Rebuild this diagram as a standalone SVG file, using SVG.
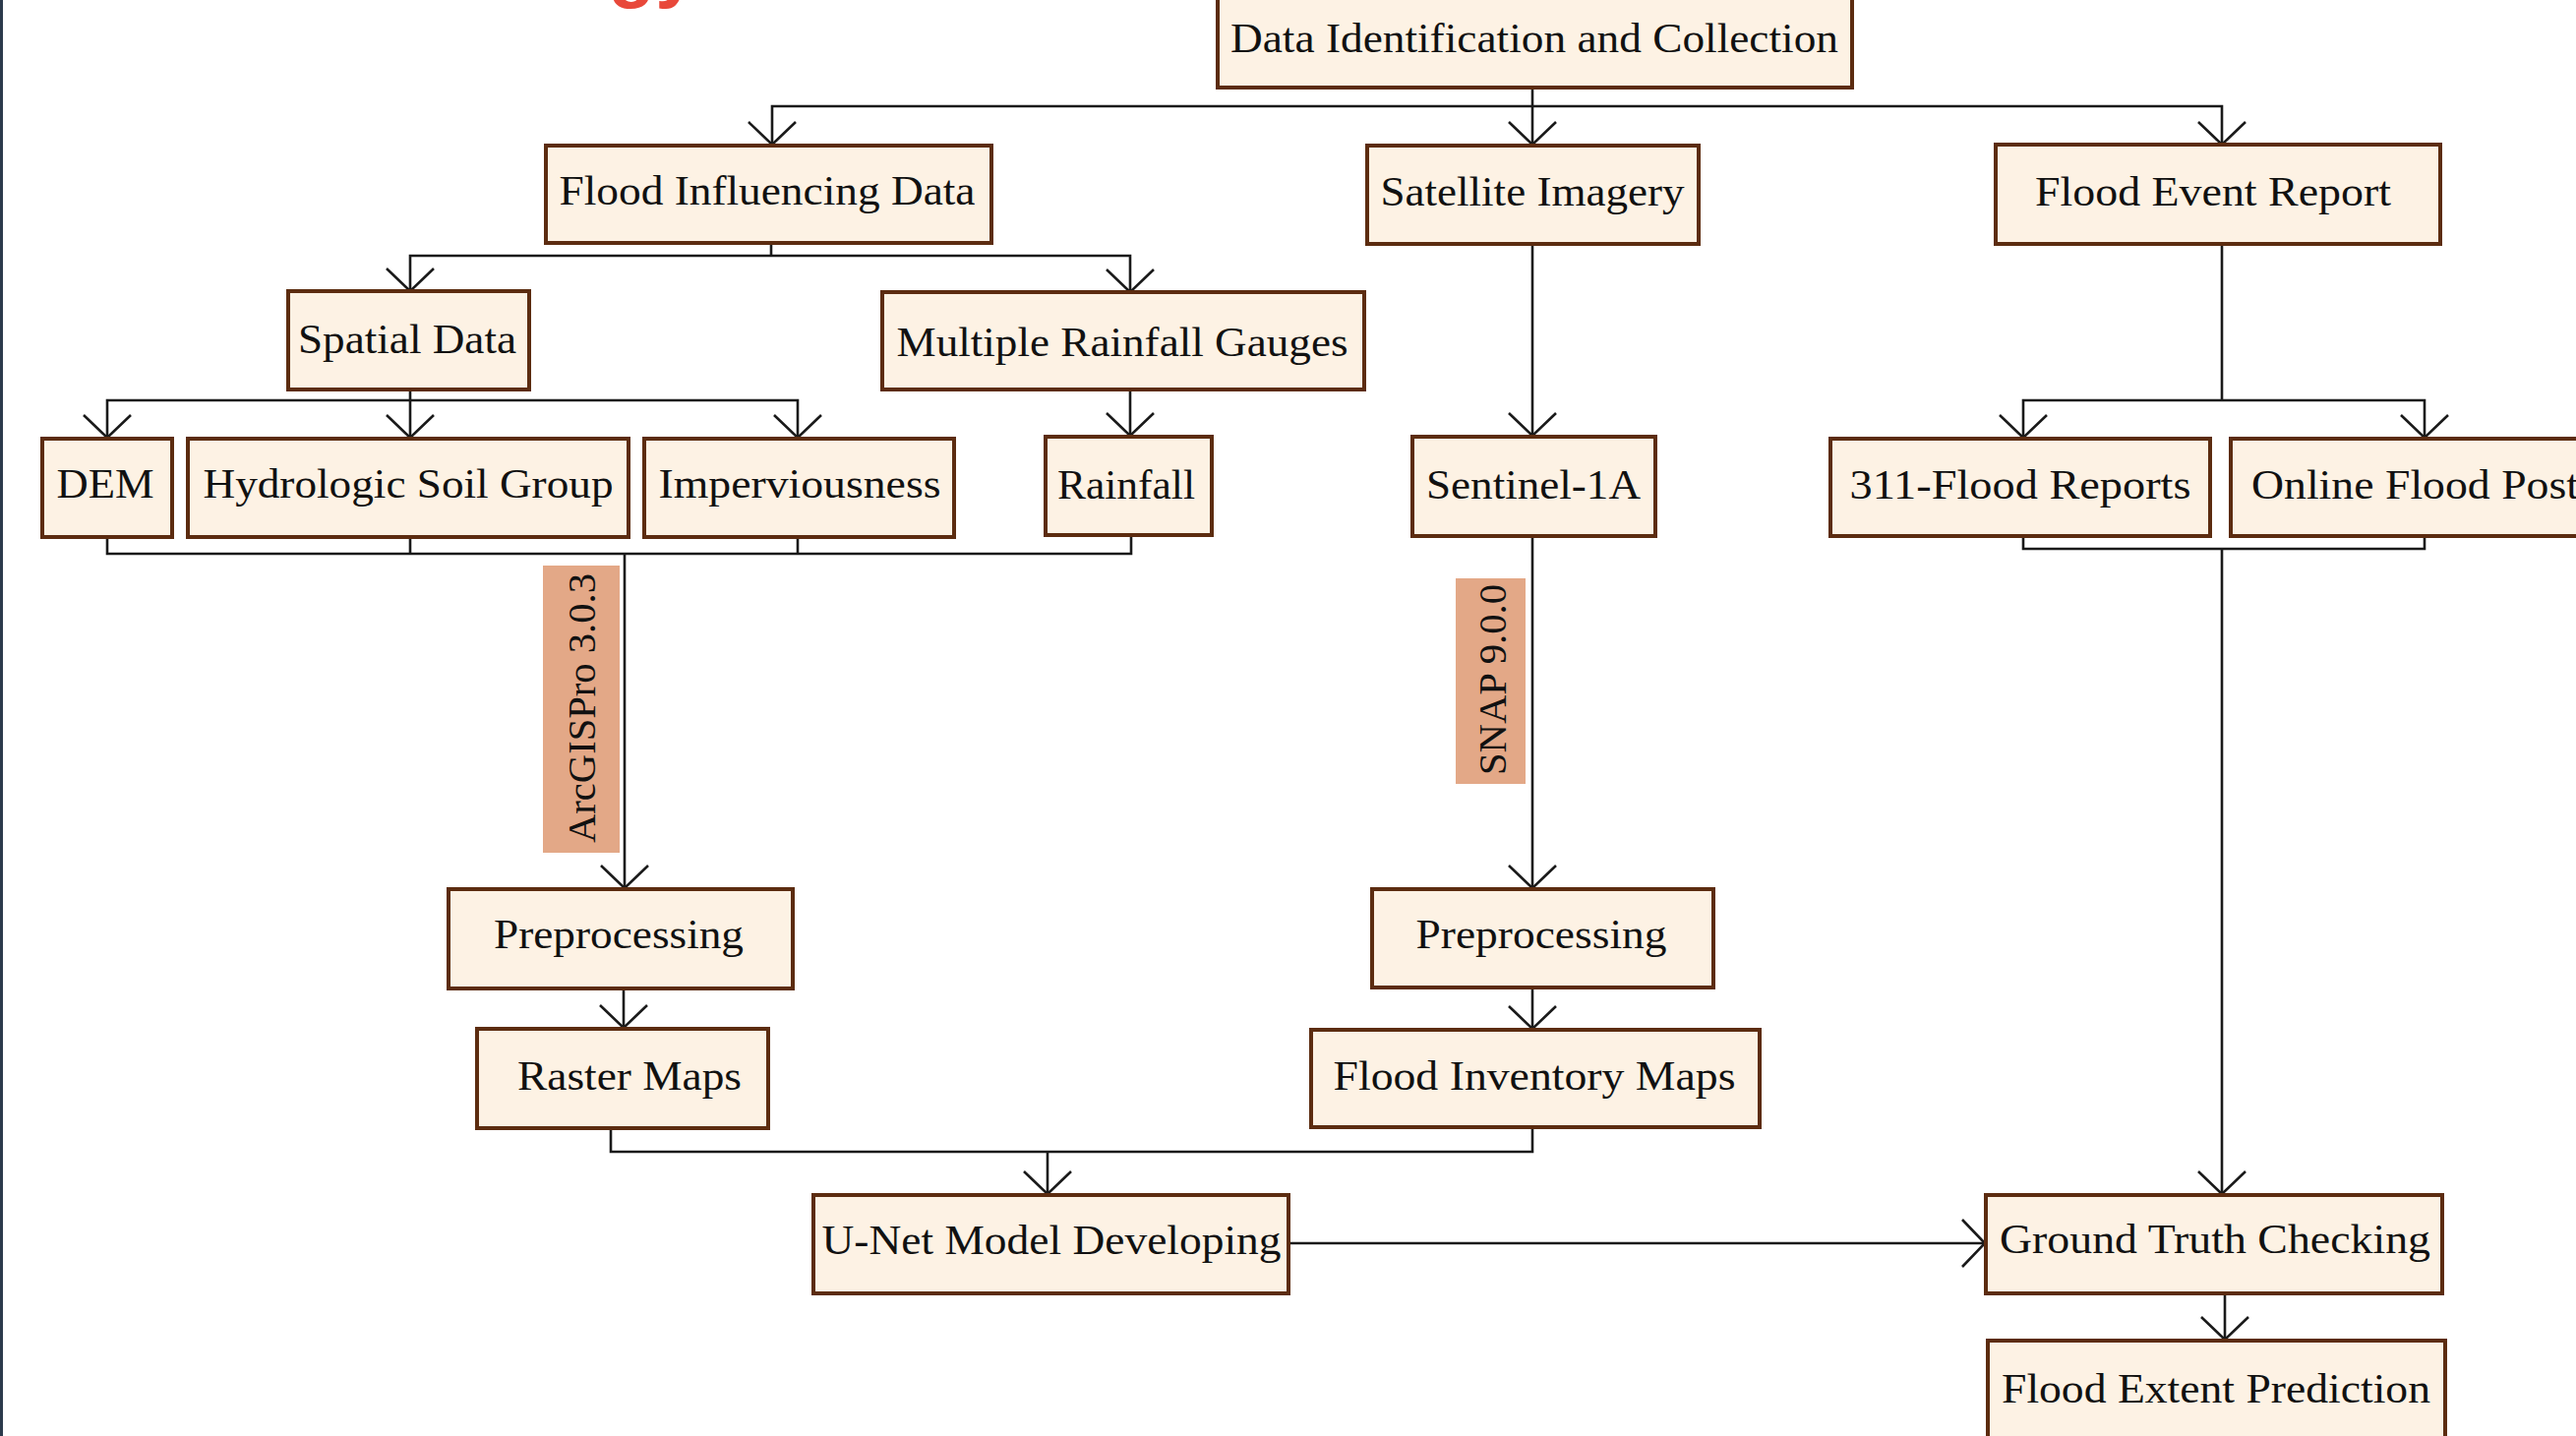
<svg xmlns="http://www.w3.org/2000/svg" width="2619" height="1460" viewBox="0 0 2619 1460">
<defs>
<style>
.box{fill:#fdf2e4;stroke:#5c2c10;stroke-width:4}
.t{font-family:"Liberation Serif","Times New Roman",serif;font-size:43px;fill:#111;text-anchor:middle}
.lbl{fill:#e3a887}
.vt{font-family:"Liberation Serif","Times New Roman",serif;font-size:41px;fill:#111;text-anchor:middle}
.c{fill:none;stroke:#1a1a1a;stroke-width:2.6}
.a{marker-end:url(#arr)}
</style>
<marker id="arr" markerWidth="32" markerHeight="56" refX="28" refY="28" orient="auto" markerUnits="userSpaceOnUse" viewBox="0 0 32 56">
<path d="M5,4 L28,28 L5,52" fill="none" stroke="#1a1a1a" stroke-width="2.6"/>
</marker>
</defs>
<rect x="0" y="0" width="2619" height="1460" fill="#ffffff"/>
<rect x="0" y="0" width="3" height="1460" fill="#2c3a4c"/>
<text x="664" y="-7" font-family="Liberation Sans, Arial, sans-serif" font-weight="bold" font-size="78" fill="#e8483a" text-anchor="middle">gy</text>

<g id="connectors">
<path class="c a" d="M1558,89 V147"/>
<path class="c a" d="M1558,108 H785 V147"/>
<path class="c a" d="M1558,108 H2259 V147"/>
<path class="c" d="M784,247 V260"/>
<path class="c a" d="M784,260 H417 V296"/>
<path class="c a" d="M784,260 H1149 V297"/>
<path class="c" d="M417,396 V407"/>
<path class="c a" d="M417,407 H109 V445"/>
<path class="c a" d="M417,407 V445"/>
<path class="c a" d="M417,407 H811 V445"/>
<path class="c a" d="M1149,396 V443"/>
<path class="c" d="M109,546 V563 H1150 V544"/>
<path class="c" d="M417,546 V563"/>
<path class="c" d="M811,546 V563"/>
<path class="c a" d="M635,563 V903"/>
<path class="c a" d="M1558,248 V443"/>
<path class="c a" d="M1558,545 V903"/>
<path class="c" d="M2259,248 V407"/>
<path class="c a" d="M2259,407 H2057 V445"/>
<path class="c a" d="M2259,407 H2465 V445"/>
<path class="c" d="M2057,545 V558 H2465 V545"/>
<path class="c a" d="M2259,558 V1214"/>
<path class="c a" d="M634,1005 V1045"/>
<path class="c a" d="M1558,1004 V1046"/>
<path class="c" d="M621,1147 V1171 H1558 V1146"/>
<path class="c a" d="M1065,1171 V1214"/>
<path class="c a" d="M1310,1264 H2018"/>
<path class="c a" d="M2262,1315 V1362"/>
</g>

<g id="label-arcgis">
<rect class="lbl" x="552" y="575" width="78" height="292"/>
<text class="vt" transform="translate(605,720) rotate(-90)" x="0" y="0" textLength="274" lengthAdjust="spacingAndGlyphs">ArcGISPro 3.0.3</text>
</g>
<g id="label-snap">
<rect class="lbl" x="1480" y="588" width="71" height="209"/>
<text class="vt" transform="translate(1531,691) rotate(-90)" x="0" y="0" textLength="194" lengthAdjust="spacingAndGlyphs">SNAP 9.0.0</text>
</g>

<g id="node-data-identification">
<rect class="box" x="1238" y="-10" width="645" height="99"/>
<text class="t" x="1560" y="53" textLength="618" lengthAdjust="spacingAndGlyphs">Data Identification and Collection</text>
</g>
<g id="node-flood-influencing">
<rect class="box" x="555" y="148" width="453" height="99"/>
<text class="t" x="780" y="208" textLength="423" lengthAdjust="spacingAndGlyphs">Flood Influencing Data</text>
</g>
<g id="node-satellite">
<rect class="box" x="1390" y="148" width="337" height="100"/>
<text class="t" x="1558" y="209" textLength="309" lengthAdjust="spacingAndGlyphs">Satellite Imagery</text>
</g>
<g id="node-flood-event">
<rect class="box" x="2029" y="147" width="452" height="101"/>
<text class="t" x="2250" y="209" textLength="362" lengthAdjust="spacingAndGlyphs">Flood Event Report</text>
</g>
<g id="node-spatial">
<rect class="box" x="293" y="296" width="245" height="100"/>
<text class="t" x="414" y="359" textLength="222" lengthAdjust="spacingAndGlyphs">Spatial Data</text>
</g>
<g id="node-rain-gauges">
<rect class="box" x="897" y="297" width="490" height="99"/>
<text class="t" x="1141" y="362" textLength="459" lengthAdjust="spacingAndGlyphs">Multiple Rainfall Gauges</text>
</g>
<g id="node-dem">
<rect class="box" x="43" y="446" width="132" height="100"/>
<text class="t" x="107" y="506" textLength="99" lengthAdjust="spacingAndGlyphs">DEM</text>
</g>
<g id="node-hsg">
<rect class="box" x="191" y="446" width="448" height="100"/>
<text class="t" x="415" y="506" textLength="417" lengthAdjust="spacingAndGlyphs">Hydrologic Soil Group</text>
</g>
<g id="node-imperv">
<rect class="box" x="655" y="446" width="315" height="100"/>
<text class="t" x="813" y="506" textLength="287" lengthAdjust="spacingAndGlyphs">Imperviousness</text>
</g>
<g id="node-rainfall">
<rect class="box" x="1063" y="444" width="169" height="100"/>
<text class="t" x="1145" y="507" textLength="140" lengthAdjust="spacingAndGlyphs">Rainfall</text>
</g>
<g id="node-sentinel">
<rect class="box" x="1436" y="444" width="247" height="101"/>
<text class="t" x="1559" y="507" textLength="218" lengthAdjust="spacingAndGlyphs">Sentinel-1A</text>
</g>
<g id="node-311">
<rect class="box" x="1861" y="446" width="386" height="99"/>
<text class="t" x="2054" y="507" textLength="347" lengthAdjust="spacingAndGlyphs">311-Flood Reports</text>
</g>
<g id="node-online">
<rect class="box" x="2268" y="446" width="380" height="99"/>
<text class="t" x="2289" y="507" style="text-anchor:start" textLength="333" lengthAdjust="spacingAndGlyphs">Online Flood Post</text>
</g>
<g id="node-preprocessing-left">
<rect class="box" x="456" y="904" width="350" height="101"/>
<text class="t" x="629" y="964" textLength="254" lengthAdjust="spacingAndGlyphs">Preprocessing</text>
</g>
<g id="node-preprocessing-right">
<rect class="box" x="1395" y="904" width="347" height="100"/>
<text class="t" x="1567" y="964" textLength="255" lengthAdjust="spacingAndGlyphs">Preprocessing</text>
</g>
<g id="node-raster">
<rect class="box" x="485" y="1046" width="296" height="101"/>
<text class="t" x="640" y="1108" textLength="228" lengthAdjust="spacingAndGlyphs">Raster Maps</text>
</g>
<g id="node-flood-inventory">
<rect class="box" x="1333" y="1047" width="456" height="99"/>
<text class="t" x="1560" y="1108" textLength="409" lengthAdjust="spacingAndGlyphs">Flood Inventory Maps</text>
</g>
<g id="node-unet">
<rect class="box" x="827" y="1215" width="483" height="100"/>
<text class="t" x="1069" y="1275" textLength="467" lengthAdjust="spacingAndGlyphs">U-Net Model Developing</text>
</g>
<g id="node-ground-truth">
<rect class="box" x="2019" y="1215" width="464" height="100"/>
<text class="t" x="2252" y="1274" textLength="438" lengthAdjust="spacingAndGlyphs">Ground Truth Checking</text>
</g>
<g id="node-flood-extent">
<rect class="box" x="2021" y="1363" width="465" height="112"/>
<text class="t" x="2253" y="1426" textLength="436" lengthAdjust="spacingAndGlyphs">Flood Extent Prediction</text>
</g>
</svg>
